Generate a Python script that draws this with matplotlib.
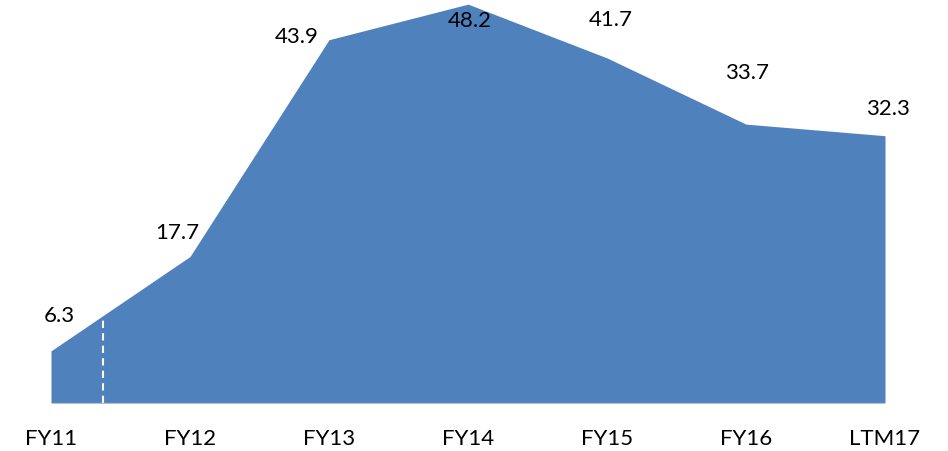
import numpy as np
import matplotlib.pyplot as plt

plt.rcParams['font.family'] = ['Lato', 'DejaVu Sans']

categories = ["FY11", "FY12", "FY13", "FY14", "FY15", "FY16", "LTM17"]
values = [6.3, 17.7, 43.9, 48.2, 41.7, 33.7, 32.3]

# label offsets in points (dx, dy), like the hand-placed excel labels
label_offsets = [(6, 25), (-9, 17), (-23, 2), (1, -12), (3, 27), (1, 37), (2, 19)]

fill_color = '#4F81BD'

fig = plt.figure(figsize=(9.48, 4.51), dpi=100)
ax = fig.add_axes([51 / 948, 48 / 451, (885 - 51) / 948, 403 / 451])

x = np.arange(len(categories))
ax.fill_between(x, 0, values, color=fill_color, linewidth=0)

# dashed marker inside the first segment
xd = 0.375
yd = np.interp(xd, x, values)
ax.plot([xd, xd], [0, yd], color='white', linestyle=(0, (3.5, 2.5)), linewidth=1.5)

ax.axhline(0, color='#A6A6A6', linewidth=1)

for xi, v, (dx, dy) in zip(x, values, label_offsets):
    ax.annotate(f"{v:.1f}", (xi, v), xytext=(dx, dy), textcoords='offset points',
                ha='center', va='center', fontsize=16, color='black')

ax.set_xlim(0, len(categories) - 1)
ax.set_ylim(0, 48.7)
ax.set_xticks(x)
ax.set_xticklabels(categories, fontsize=16)
ax.tick_params(axis='x', length=0, pad=19)
ax.set_yticks([])
for s in ax.spines.values():
    s.set_visible(False)

fig.savefig('out.png', dpi=100)
